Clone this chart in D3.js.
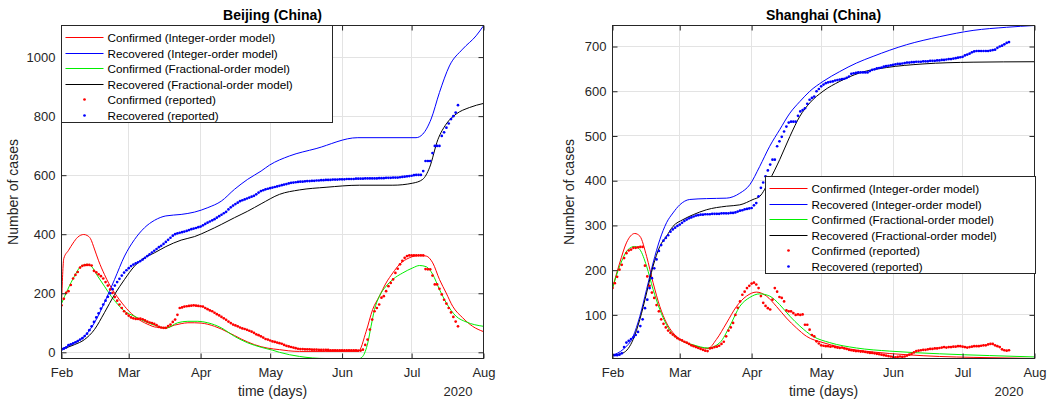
<!DOCTYPE html>
<html>
<head>
<meta charset="utf-8">
<script src="https://cdn.jsdelivr.net/npm/d3@7"></script>
<style>
  body { margin: 0; background: #fff; }
  svg { font-family: "Liberation Sans", Arial, sans-serif; }
</style>
</head>
<body>
<svg id="fig" width="1047" height="405"></svg>
<script>
// months on the x axis (Feb 1 2020 = day 0)
var monthLabels = ["Feb", "Mar", "Apr", "May", "Jun", "Jul", "Aug"];
var legendLabels = ["Confirmed (Integer-order model)", "Recovered (Integer-order model)",
                    "Confirmed (Fractional-order model)", "Recovered (Fractional-order model)",
                    "Confirmed (reported)", "Recovered (reported)"];

// ---- Beijing reported data, one value per day from Feb 1
var bjConfirmed = [159,181,201,207,228,250,262,272,287,293,295,296,296,294,276,271,264,258,250,238,
  226,213,201,187,175,162,150,139,131,124,118,115,113,113,114,112,108,104,101,99,
  96,92,86,84,83,83,89,94,103,111,127,150,152,155,156,157,158,159,158,157,
  156,155,150,146,142,139,134,129,125,120,115,110,104,99,94,91,88,84,81,79,
  76,73,70,66,61,58,54,50,45,43,40,37,35,33,31,29,25,22,20,18,
  16,14,12,11,11,10,10,10,9,9,9,8,8,8,8,8,7,7,7,7,
  7,7,7,7,7,7,7,7,6,6,9,25,43,77,111,139,150,162,185,190,
  207,224,235,247,269,283,298,310,320,326,328,328,328,328,328,328,328,282,281,281,
  260,230,230,215,196,178,165,150,135,120,104,88];
var bjRecovered = [9,12,16,24,27,30,34,38,43,48,55,63,75,88,103,118,132,148,162,175,
  188,200,214,226,238,249,260,270,278,285,292,297,301,305,309,314,320,326,332,338,
  344,350,356,361,367,374,381,388,395,400,403,405,407,409,411,414,417,419,421,424,
  426,430,435,439,443,447,451,456,461,466,471,476,484,491,497,502,507,512,515,518,
  521,524,527,530,535,541,546,549,552,554,556,558,560,562,564,566,568,570,572,574,
  575,576,577,578,578,579,580,580,581,581,582,582,583,583,584,584,584,585,585,585,
  586,586,586,587,587,587,587,588,588,588,588,589,589,589,589,589,589,590,590,590,
  591,591,591,592,592,592,593,594,595,596,597,598,600,601,601,601,614,648,648,648,
  675,699,699,699,733,745,761,775,790,800,812,837];

// ---- Beijing model curves [day, cases]
var bjIntConfirmed = [[0,160],[1,318],[3,345],[5,370],[7,390],[9.6,399],[11,396],[12.5,385],[14.2,350],[16,310],
  [18.5,264],[20.5,232],[22.9,201],[25,178],[27.2,156],[29,140],[31.5,122],[33.5,110],[35.8,100],[38,92],
  [40.1,86],[42,84],[45,82],[48.7,92],[51.6,97],[54.5,100],[57.4,100],[60.2,99],[63.1,95],[66,88],
  [68.9,79],[71.7,68],[74.6,57],[77.5,45],[80.3,35],[83.2,26],[86.1,19],[89,14],[94,9],[98,5],
  [102.6,3],[114,3],[128,3],[131.4,71],[134.2,145],[137.1,190],[140,235],[142.9,269],[145.8,298],[150,320],
  [154.4,328],[157.3,326],[160.1,303],[163,247],[165.9,201],[168.7,156],[173,117],[177.3,88],[182,70]];
var bjIntRecovered = [[0,12],[5.6,32],[9.9,54],[14.2,100],[18.5,168],[22.9,247],[27.2,326],[31.5,382],[35.8,422],[40.1,447],
  [45,462],[51.6,467],[57.4,475],[63.1,490],[68.9,512],[74.6,552],[80.3,586],[86.1,614],[89.7,634],[98.3,665],
  [109.8,690],[127.8,727],[152.9,727],[155.8,739],[159.4,790],[163,880],[167.3,970],[173,1027],[178.8,1072],[182,1106]];
var bjFracConfirmed = [[0,165],[2.7,213],[5.6,258],[8.5,292],[11.3,298],[12.8,292],[15.6,258],[18.5,224],[21.4,190],[24.3,162],
  [27.2,139],[31.5,122],[35.8,105],[40.1,92],[45,82],[50.1,100],[54.5,105],[58.8,105],[63.1,100],[68.9,83],
  [74.6,54],[80.3,32],[86.1,17],[91.1,7],[94,0],[102.6,-14],[114,-21],[128.5,-21],[129.9,-14],[132.1,32],
  [133.5,88],[135,145],[137.1,190],[140,224],[142.9,247],[147.2,269],[151.5,286],[154.4,294],[157.3,290],[160.1,264],
  [163,213],[165.9,168],[170.2,122],[174.5,103],[182,88]];
var bjFracRecovered = [[0,10],[5.6,26],[9.9,43],[14.2,77],[18.5,134],[22.9,196],[27.2,247],[31.5,292],[35.8,320],[40.1,337],
  [45,358],[51.6,380],[57.4,392],[63.1,411],[68.9,433],[74.6,456],[80.3,478],[86.1,503],[94,535],[102.6,550],
  [114.1,559],[128.5,566],[142.9,566],[151.5,573],[155.8,586],[158.7,625],[162.3,720],[165.9,773],[170.2,807],[175.9,829],
  [182,843]];

// ---- Shanghai reported data
var shConfirmed = [160,171,185,201,212,227,238,244,246,250,250,251,252,252,210,186,165,150,138,122,
  108,90,80,72,65,60,56,52,48,45,43,40,38,35,32,30,28,26,24,22,
  20,19,25,26,28,29,31,35,40,52,65,72,82,100,116,130,145,152,160,165,
  170,172,168,160,142,127,120,115,112,134,160,152,140,138,130,110,108,108,104,100,
  101,100,101,78,78,67,55,52,41,36,32,31,30,30,29,30,28,27,26,27,
  25,24,22,21,20,19,19,18,18,17,16,15,15,14,13,12,11,10,9,8,
  7,6,5,6,7,6,7,9,11,13,16,19,20,21,22,22,23,24,24,25,
  25,26,27,28,27,28,28,29,29,30,30,29,28,27,28,29,30,30,30,31,
  32,32,34,35,35,32,30,28,23,21,20,21];
var shRecovered = [10,10,10,11,14,28,38,42,46,50,55,62,75,90,115,134,160,182,204,224,
  243,256,266,272,278,286,291,295,299,302,306,310,313,316,318,320,322,323,324,324,
  325,325,325,326,326,326,326,327,327,327,327,328,328,329,331,333,334,336,337,338,
  339,345,350,365,384,396,410,423,436,447,447,477,488,498,510,521,530,532,532,532,
  545,555,558,562,572,581,585,588,600,605,611,615,618,620,621,622,624,625,626,627,
  628,630,633,639,640,641,642,642,642,642,642,645,648,649,651,652,653,655,656,657,
  658,659,660,661,661,662,663,664,664,665,665,666,666,666,667,667,667,668,668,668,
  669,669,670,670,671,672,672,673,674,675,676,677,680,682,684,687,689,690,690,690,
  690,690,690,691,692,693,697,700,702,705,708,710];

// ---- Shanghai model curves [day, cases]
var shIntConfirmed = [[0,160],[3.1,216],[6,261],[9.6,282],[11.8,276],[14.7,231],[17.5,172],[20.4,119],[23.3,82],[26.1,60],
  [30.4,41],[34.8,32],[41.2,25],[44.8,45],[49.2,82],[53.5,119],[57.8,142],[62.1,151],[66.4,142],[70.7,119],
  [75,93],[79.3,71],[83.7,52],[90.8,38],[98,28],[112.4,17],[126.8,11],[141.1,7],[155.5,5],[182,2.5]];
var shIntRecovered = [[0,10],[4.6,23],[8.9,52],[11.8,97],[14.7,157],[17.5,216],[20.4,268],[23.3,306],[26.1,328],[29,346],
  [33.3,358],[40.5,360],[49.2,361],[54.9,372],[59.2,391],[63.5,432],[67.8,477],[72.1,514],[76.5,551],[80.8,577],
  [85.1,600],[90.8,622],[98,644],[105.2,663],[112.4,678],[126.8,704],[141.1,722],[155.5,736],[169.9,743],[182,747]];
var shFracConfirmed = [[0,160],[3.1,209],[6.7,246],[9.6,253],[11.8,246],[14.7,209],[17.5,157],[20.4,112],[23.3,78],[26.1,56],
  [30.4,41],[34.8,33],[41.2,26],[46.3,38],[50.6,75],[54.9,119],[59.2,139],[63.5,147],[67.8,142],[72.1,123],
  [76.5,97],[80.8,75],[86.5,52],[93.7,38],[105.2,26],[119.6,19],[141.1,13],[162.7,9],[182,6]];
var shFracRecovered = [[0,10],[4.6,15],[8.9,45],[11.8,90],[14.7,149],[17.5,209],[20.4,253],[23.3,276],[26.1,298],[30.4,313],
  [34.8,324],[40.5,335],[49.2,343],[54.9,346],[60.6,358],[63.5,365],[67.8,402],[72.1,447],[76.5,499],[80.8,544],
  [85.1,574],[90.8,600],[98,622],[106.6,641],[118.2,653],[133.9,661],[155.5,665],[182,666]];

var bjTicks = [0, 200, 400, 600, 800, 1000];
var shTicks = [100, 200, 300, 400, 500, 600, 700];

// layout
var svg = d3.select("#fig");
var plotTop = 25.5, plotH = 333, plotW = 422;
var axisCol = "#262626";
var t0 = new Date(2020, 1, 1);
var toDate = function(day) { return new Date(t0.getTime() + day * 864e5); };
var months = d3.timeMonth.range(t0, new Date(2020, 7, 2));

function drawPanel(p) {
    var g = svg.append("g").attr("transform", `translate(${p.left}, ${plotTop})`);
    var x = d3.scaleTime().domain([t0, new Date(2020, 7, 1)]).range([0, plotW]);
    var y = d3.scaleLinear().domain(p.yDomain).range([plotH, 0]);

    // grid
    g.selectAll(".vgrid").data(months).enter().append("line")
        .attr("x1", d => Math.round(x(d))).attr("x2", d => Math.round(x(d)))
        .attr("y1", 0).attr("y2", plotH)
        .attr("stroke", "#e3e3e3").attr("stroke-width", 1);
    g.selectAll(".hgrid").data(p.ticks).enter().append("line")
        .attr("x1", 0).attr("x2", plotW)
        .attr("y1", d => Math.round(y(d))).attr("y2", d => Math.round(y(d)))
        .attr("stroke", "#e3e3e3").attr("stroke-width", 1);

    var clipId = "clip-" + p.name;
    svg.append("clipPath").attr("id", clipId)
        .append("rect").attr("width", plotW).attr("height", plotH);
    var plot = g.append("g").attr("clip-path", `url(#${clipId})`);

    var line = d3.line()
        .x(d => x(toDate(d[0])))
        .y(d => y(d[1]))
        .curve(d3.curveMonotoneX);

    var models = [
        {data: p.intConf, color: "#ff0000"},
        {data: p.fracConf, color: "#00ee00"},
        {data: p.intRec, color: "#0000ff"},
        {data: p.fracRec, color: "#000000"}
    ];
    models.forEach(function(m) {
        plot.append("path")
            .datum(m.data)
            .attr("d", line)
            .attr("fill", "none")
            .attr("stroke", m.color)
            .attr("stroke-width", 1);
    });

    // reported dots
    [[p.conf, "#ff0000"], [p.rec, "#0000ff"]].forEach(function(s) {
        plot.selectAll(null).data(s[0]).enter().append("circle")
            .attr("cx", (d, i) => x(toDate(i)))
            .attr("cy", d => y(d))
            .attr("r", 1.35)
            .attr("fill", s[1]);
    });

    // axes with inward ticks on all four sides
    var fmt = d3.timeFormat("%b");
    var xb = g.append("g").attr("transform", `translate(0, ${plotH})`)
        .call(d3.axisBottom(x).tickValues(months).tickFormat(fmt).tickSizeInner(-5).tickSizeOuter(0).tickPadding(9));
    var xt = g.append("g")
        .call(d3.axisTop(x).tickValues(months).tickFormat("").tickSizeInner(-5).tickSizeOuter(0));
    var yl = g.append("g")
        .call(d3.axisLeft(y).tickValues(p.ticks).tickFormat(d3.format("d")).tickSizeInner(-5).tickSizeOuter(0).tickPadding(6));
    var yr = g.append("g").attr("transform", `translate(${plotW}, 0)`)
        .call(d3.axisRight(y).tickValues(p.ticks).tickFormat("").tickSizeInner(-5).tickSizeOuter(0));
    [xb, xt, yl, yr].forEach(function(a) {
        a.select(".domain").remove();
        a.selectAll("line").attr("stroke", axisCol);
        a.selectAll("text").attr("fill", axisCol).style("font-size", "13px")
            .style("font-family", "'Liberation Sans', Arial, sans-serif");
    });
    g.append("rect").attr("width", plotW).attr("height", plotH)
        .attr("fill", "none").attr("stroke", axisCol).attr("stroke-width", 1);

    // titles and labels
    g.append("text").attr("x", plotW / 2).attr("y", -6)
        .attr("text-anchor", "middle").style("font-size", "14px").style("font-weight", "bold")
        .attr("fill", "#000").text(p.title);
    g.append("text").attr("x", plotW / 2).attr("y", plotH + 37)
        .attr("text-anchor", "middle").style("font-size", "14px").attr("fill", axisCol)
        .text("time (days)");
    g.append("text").attr("x", plotW - 11).attr("y", plotH + 37)
        .attr("text-anchor", "end").style("font-size", "13px").attr("fill", axisCol)
        .text("2020");
    g.append("text")
        .attr("transform", `translate(${p.ylabX}, ${plotH / 2}) rotate(-90)`)
        .attr("text-anchor", "middle").style("font-size", "14px").attr("fill", axisCol)
        .text("Number of cases");

    // legend
    var lg = svg.append("g").attr("transform", `translate(${p.legX}, ${p.legY})`);
    lg.append("rect").attr("width", p.legW).attr("height", 97)
        .attr("fill", "#fff").attr("stroke", axisCol).attr("stroke-width", 1);
    var keyColors = ["#ff0000", "#0000ff", "#00ee00", "#000000", "#ff0000", "#0000ff"];
    legendLabels.forEach(function(lab, i) {
        var cy = Math.round(12 + i * 15.5);
        if (i < 4) {
            lg.append("line").attr("x1", 4).attr("x2", 42).attr("y1", cy).attr("y2", cy)
                .attr("stroke", keyColors[i]).attr("stroke-width", 1);
        } else {
            lg.append("circle").attr("cx", 23).attr("cy", cy).attr("r", 1.35).attr("fill", keyColors[i]);
        }
        lg.append("text").attr("x", 46).attr("y", cy + 4)
            .style("font-size", "11.7px").attr("fill", "#000").text(lab);
    });
}

drawPanel({
    name: "bj", title: "Beijing (China)", left: 61.5, yDomain: [-21, 1107], ticks: bjTicks,
    conf: bjConfirmed, rec: bjRecovered,
    intConf: bjIntConfirmed, intRec: bjIntRecovered, fracConf: bjFracConfirmed, fracRec: bjFracRecovered,
    ylabX: -44, legX: 61.5, legY: 25.5, legW: 271
});
drawPanel({
    name: "sh", title: "Shanghai (China)", left: 612.5, yDomain: [2.5, 747], ticks: shTicks,
    conf: shConfirmed, rec: shRecovered,
    intConf: shIntConfirmed, intRec: shIntRecovered, fracConf: shFracConfirmed, fracRec: shFracRecovered,
    ylabX: -39, legX: 765.5, legY: 176.5, legW: 270
});
</script>
</body>
</html>
